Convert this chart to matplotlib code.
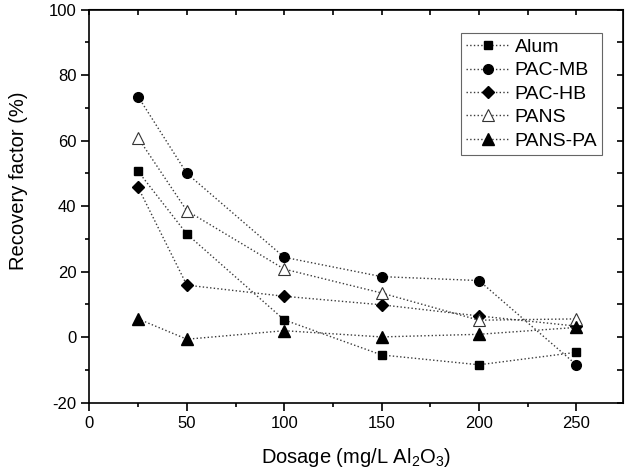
import matplotlib
matplotlib.use("Agg")
import matplotlib.pyplot as plt
from matplotlib.ticker import MultipleLocator

plt.rcParams['font.family'] = ['Liberation Sans', 'DejaVu Sans']
plt.rcParams['mathtext.fontset'] = 'custom'
plt.rcParams['mathtext.rm'] = 'Liberation Sans'
plt.rcParams['mathtext.it'] = 'Liberation Sans'
plt.rcParams['axes.unicode_minus'] = False

dosage = [25, 50, 100, 150, 200, 250]
alum = [50.6, 31.5, 5.3, -5.4, -8.4, -4.6]
pac_mb = [73.4, 50.0, 24.4, 18.5, 17.3, -8.4]
pac_hb = [45.7, 15.9, 12.5, 9.9, 6.5, 3.4]
pans = [60.8, 38.6, 20.8, 13.5, 5.2, 5.6]
pans_pa = [5.6, -0.6, 2.0, 0.1, 0.9, 3.0]

fig = plt.figure(figsize=(6.3, 4.75), dpi=100)
ax = fig.add_axes([0.142, 0.152, 0.847, 0.828])

line_kw = dict(linestyle=':', color='#3a3a3a', linewidth=1.0)
ax.plot(dosage, alum, marker='s', markersize=6, mfc='black', mec='black', label='Alum', **line_kw)
ax.plot(dosage, pac_mb, marker='o', markersize=7, mfc='black', mec='black', label='PAC-MB', **line_kw)
ax.plot(dosage, pac_hb, marker='D', markersize=6, mfc='black', mec='black', label='PAC-HB', **line_kw)
ax.plot(dosage, pans, marker='^', markersize=8, mfc='white', mec='#333333', mew=0.8, label='PANS', **line_kw)
ax.plot(dosage, pans_pa, marker='^', markersize=8, mfc='black', mec='black', label='PANS-PA', **line_kw)

ax.set_xlim(0, 274)
ax.set_ylim(-20, 100)
ax.xaxis.set_major_locator(MultipleLocator(50))
ax.xaxis.set_minor_locator(MultipleLocator(25))
ax.yaxis.set_major_locator(MultipleLocator(20))
ax.yaxis.set_minor_locator(MultipleLocator(10))
ax.tick_params(which='major', direction='out', length=6, width=1.2, labelsize=12)
ax.tick_params(which='minor', direction='out', length=3, width=1.2)
for s in ax.spines.values():
    s.set_linewidth(1.2)

# inward ticks on top and right
top = ax.secondary_xaxis('top')
top.xaxis.set_major_locator(MultipleLocator(25))
top.tick_params(direction='in', length=4.5, width=1.2, labeltop=False)
right = ax.secondary_yaxis('right')
right.yaxis.set_major_locator(MultipleLocator(10))
right.tick_params(direction='in', length=4.5, width=1.2, labelright=False)

ax.set_xlabel('Dosage (mg/L Al$_2$O$_3$)', fontsize=14.5, labelpad=11)
ax.set_ylabel('Recovery factor (%)', fontsize=14.5)
ax.yaxis.set_label_coords(-0.115, 0.565)

leg = ax.legend(loc='upper right', bbox_to_anchor=(0.961, 0.939), fontsize=14,
                fancybox=False, framealpha=1, edgecolor='#666666',
                handlelength=2.2, handletextpad=0.3, labelspacing=0.3,
                borderpad=0.25, borderaxespad=0)
leg.get_frame().set_linewidth(0.8)

fig.savefig('out.png', dpi=100)
